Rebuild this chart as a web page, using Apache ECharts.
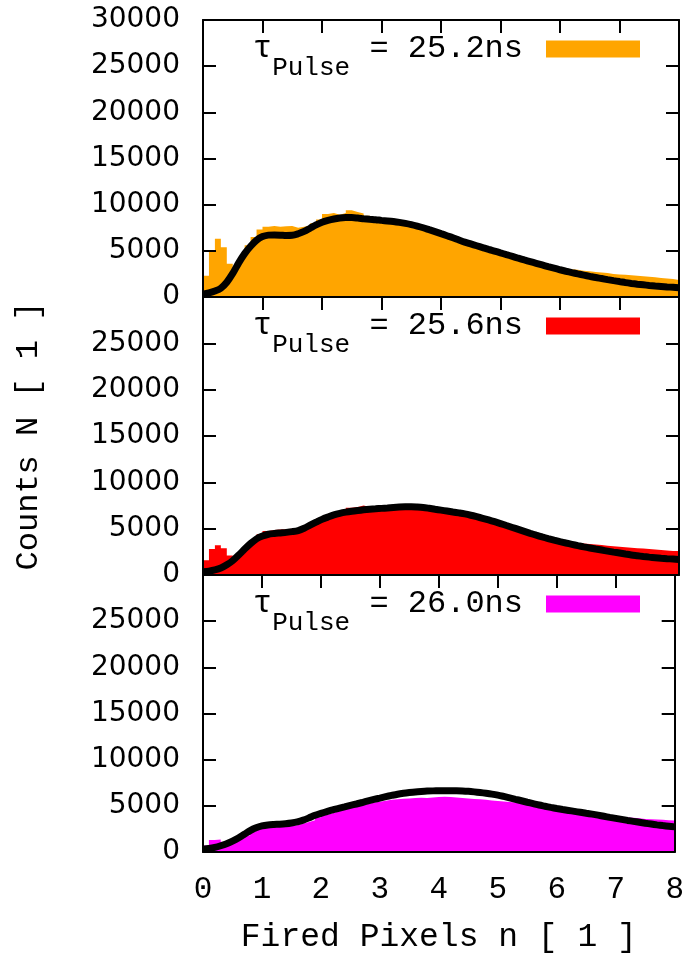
<!DOCTYPE html>
<html>
<head>
<meta charset="utf-8">
<script src="https://cdn.jsdelivr.net/npm/echarts@6/dist/echarts.min.js"></script>
<style>
html,body{margin:0;padding:0;background:#fff;}
#chart{width:687px;height:955px;}
</style>
</head>
<body>
<div id="chart"></div>
<script>
// ---- data ----
const pulseLabels = ['25.2ns', '25.6ns', '26.0ns'];
const histColors = ['#FFA500', '#FF0000', '#FF00FF'];
const xTickLabels = ['0','1','2','3','4','5','6','7','8'];
const yTickLabels = ['0','5000','10000','15000','20000','25000','30000'];

// histogram counts, bins of width 0.1 from 0 to 8 (left edges)
const hist1 = [2300,5000,6300,5400,3600,3000,4200,5600,6500,7300,
  7600,7700,7600,7650,7700,7500,7600,7750,8000,8400,
  9000,9100,8900,9100,9400,9200,9050,8800,8650,8550,
  8450,8250,8100,7950,7850,7700,7500,7300,7050,6800,
  6600,6350,6100,5900,5700,5500,5300,5100,4900,4700,
  4550,4350,4150,4000,3850,3700,3550,3450,3300,3200,
  3100,3000,2950,2850,2800,2700,2650,2600,2500,2450,
  2400,2350,2300,2250,2200,2150,2050,2000,1950,1850];
const hist2 = [1600,2800,3200,2900,2100,1700,2300,3000,3700,4400,
  4750,4850,4900,4950,5000,5050,5100,5300,5700,6100,
  6350,6600,6750,6900,7250,7350,7500,7350,7300,7250,
  7250,7200,7200,7150,7150,7100,7050,7000,6950,6850,
  6800,6700,6600,6450,6350,6200,6050,5900,5700,5550,
  5350,5150,4950,4750,4550,4350,4200,4050,3900,3750,
  3650,3550,3450,3400,3350,3300,3250,3150,3100,3050,
  3000,2950,2900,2850,2800,2750,2700,2650,2600,2600];
const hist3 = [700,1300,1350,1100,950,1100,1400,1800,2200,2500,
  2700,2780,2800,2780,2820,2900,3050,3250,3450,3750,
  4000,4200,4400,4600,4750,4950,5100,5200,5350,5450,
  5550,5650,5700,5780,5800,5850,5870,5860,5900,5950,
  5980,5950,5900,5850,5800,5750,5700,5650,5580,5530,
  5480,5420,5350,5280,5220,5150,5050,4950,4800,4700,
  4600,4500,4400,4300,4200,4100,4000,3950,3900,3850,
  3800,3750,3700,3650,3580,3550,3520,3490,3450,3400];

// fit curves sampled at x = 0, 0.1, ..., 8
const fit1 = [300,450,650,950,1600,2550,3700,4700,5500,6150,
  6550,6700,6720,6700,6660,6680,6850,7100,7450,7800,
  8100,8300,8450,8550,8600,8600,8550,8480,8420,8370,
  8300,8240,8170,8080,7970,7840,7680,7500,7290,7080,
  6860,6640,6420,6180,5950,5750,5550,5350,5150,4970,
  4780,4590,4400,4200,4010,3830,3650,3470,3290,3120,
  2950,2790,2640,2500,2370,2240,2110,2000,1880,1770,
  1670,1560,1470,1390,1320,1250,1190,1140,1090,1050,1000];
const fit2 = [350,420,550,750,1100,1550,2150,2800,3400,3900,
  4200,4400,4480,4540,4600,4680,4800,5050,5380,5700,
  6000,6250,6480,6650,6780,6880,6960,7030,7090,7140,
  7190,7240,7290,7330,7360,7370,7340,7290,7200,7100,
  7000,6900,6800,6700,6590,6450,6290,6120,5940,5750,
  5550,5340,5130,4920,4710,4500,4300,4110,3930,3760,
  3600,3450,3310,3170,3040,2920,2800,2690,2580,2470,
  2370,2260,2160,2080,2000,1930,1870,1810,1760,1720,1680];
const fit3 = [300,380,500,680,900,1180,1520,1920,2320,2620,
  2820,2930,2980,3010,3060,3140,3260,3450,3700,3970,
  4180,4380,4570,4730,4890,5050,5200,5360,5530,5690,
  5840,5990,6130,6260,6360,6440,6510,6560,6600,6620,
  6630,6640,6640,6630,6610,6570,6510,6440,6360,6270,
  6160,6020,5870,5710,5550,5390,5240,5090,4960,4830,
  4710,4600,4500,4400,4300,4200,4100,3990,3870,3750,
  3640,3530,3420,3320,3220,3120,3030,2940,2860,2790,2720];

const xAxisTitle = 'Fired Pixels n [ 1 ]';
const yAxisTitle = 'Counts N [ 1 ]';

// ---- build ----
const hists = [hist1, hist2, hist3];
const fits = [fit1, fit2, fit3];
const xEdges = [];
for (let i = 0; i <= 80; i++) xEdges.push(i / 10);

const MONO = 'Liberation Mono';
const panelTops = [20, 297, 575];
const panelHeights = [277, 278, 278];

const grid = [], xAxis = [], yAxis = [], series = [], legend = [];
for (let p = 0; p < 3; p++) {
  grid.push({left: 203, right: 8, top: panelTops[p], height: panelHeights[p], containLabel: false});
  const last = p === 2;
  // bottom x axis
  xAxis.push({
    type: 'value', gridIndex: p, position: 'bottom', min: 0, max: 8, interval: 1, z: 4,
    axisLine: {show: true, onZero: false, lineStyle: {color: '#000', width: 2}},
    axisTick: {show: false},
    splitLine: {show: false},
    axisLabel: {show: last, margin: 22, color: '#000', fontFamily: MONO, fontSize: 31,
      formatter: v => xTickLabels[Math.round(v)]},
    name: last ? xAxisTitle : '', nameLocation: 'middle', nameGap: 69,
    nameTextStyle: {fontFamily: MONO, fontSize: 33, color: '#000'}
  });
  // top x axis
  xAxis.push({
    type: 'value', gridIndex: p, position: 'top', min: 0, max: 8, interval: 1, z: 4,
    axisLine: {show: true, onZero: false, lineStyle: {color: '#000', width: 2}},
    axisTick: {show: true, inside: true, length: 13, lineStyle: {color: '#000', width: 2}},
    splitLine: {show: false}, axisLabel: {show: false}
  });
  // left y axis
  yAxis.push({
    type: 'value', gridIndex: p, position: 'left', min: 0, max: 30000, interval: 5000, z: 4,
    axisLine: {show: true, onZero: false, lineStyle: {color: '#000', width: 2}},
    axisTick: {show: true, inside: true, length: 13, lineStyle: {color: '#000', width: 2}},
    splitLine: {show: false},
    axisLabel: {show: true, margin: 23, color: '#000', fontFamily: 'DejaVu Sans', fontSize: 28,
      showMaxLabel: p === 0, formatter: v => yTickLabels[Math.round(v / 5000)]},
    name: p === 1 ? yAxisTitle : '', nameLocation: 'middle', nameGap: 158, nameRotate: 90,
    nameTextStyle: {fontFamily: MONO, fontSize: 32, color: '#000'}
  });
  // right y axis
  yAxis.push({
    type: 'value', gridIndex: p, position: 'right', min: 0, max: 30000, interval: 5000, z: 4,
    axisLine: {show: true, onZero: false, lineStyle: {color: '#000', width: 2}},
    axisTick: {show: true, inside: true, length: 13, lineStyle: {color: '#000', width: 2}},
    splitLine: {show: false}, axisLabel: {show: false}
  });

  const name = 'τPulse = ' + pulseLabels[p];
  const hData = hists[p].map((v, i) => [xEdges[i], v]);
  hData.push([xEdges[80], hists[p][hists[p].length - 1]]);
  series.push({
    name: name, type: 'line', step: 'end', xAxisIndex: 2 * p, yAxisIndex: 2 * p,
    data: hData, symbol: 'none', z: 2, color: histColors[p],
    itemStyle: {color: histColors[p]},
    lineStyle: {width: 0, opacity: 0},
    areaStyle: {color: histColors[p], opacity: 1},
    animation: false
  });
  series.push({
    name: 'fit' + (p + 1), type: 'line', xAxisIndex: 2 * p, yAxisIndex: 2 * p,
    data: fits[p].map((v, i) => [xEdges[i], v]), symbol: 'none', smooth: 0.3, z: 3,
    lineStyle: {color: '#000', width: 7}, animation: false
  });
  legend.push({
    data: [name], right: 47, top: panelTops[p] + 13, itemWidth: 94, itemHeight: 17,
    icon: 'rect', align: 'right', selectedMode: false, padding: 0,
    formatter: () => '{t|τ}{s|Pulse}{n| = ' + pulseLabels[p] + '}',
    textStyle: {
      fontFamily: MONO, fontSize: 32, color: '#000', padding: [0, 18, 0, 0], lineHeight: 32,
      rich: {
        t: {fontFamily: MONO, fontSize: 32, color: '#000', lineHeight: 32, verticalAlign: 'top'},
        s: {fontFamily: MONO, fontSize: 26, color: '#000', lineHeight: 26, padding: [22, 0, 0, 0], verticalAlign: 'top'},
        n: {fontFamily: MONO, fontSize: 32, color: '#000', lineHeight: 32, verticalAlign: 'top'}
      }
    }
  });
}

const chart = echarts.init(document.getElementById('chart'), null, {renderer: 'canvas'});
chart.setOption({
  backgroundColor: '#fff',
  animation: false,
  grid: grid, xAxis: xAxis, yAxis: yAxis, series: series, legend: legend
});
</script>
</body>
</html>
